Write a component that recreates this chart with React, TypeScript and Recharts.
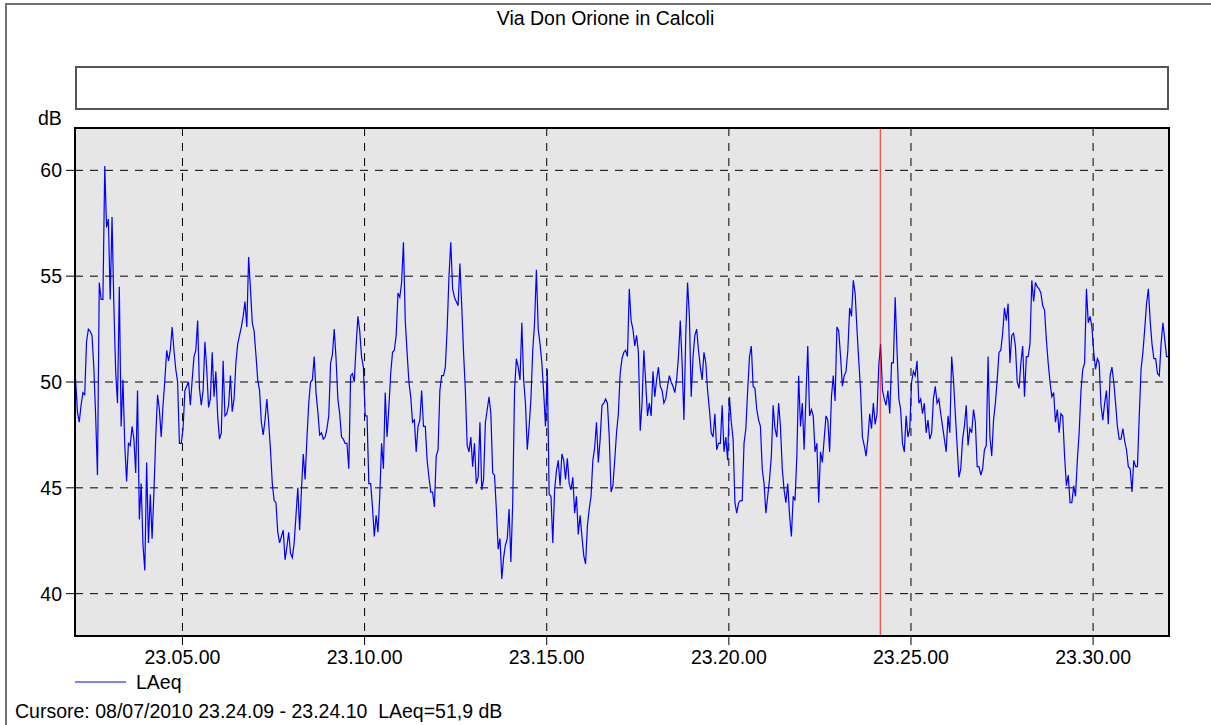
import React from "react";
import {
  LineChart,
  Line,
  XAxis,
  YAxis,
  CartesianGrid,
  ReferenceArea,
  ReferenceLine,
} from "recharts";

// LAeq readings, one every 3 s, starting 23.02.04 (seconds after 23.00.00)
const START_S = 124;
const STEP_S = 3;

const laeqA = [
  50.1, 48.6, 48.1, 48.9, 49.5, 49.4, 51.9, 52.5, 52.4, 52.2, 50.7, 48.4, 45.6, 54.7, 53.9, 53.9, 60.2,
  57.3, 57.7, 53.9, 57.8, 53.6, 50.5, 49.0, 54.5, 47.9, 50.1, 47.0, 45.3, 47.1, 47.0, 47.9, 47.3, 45.7,
  49.6, 43.5, 45.2, 42.3, 41.1, 46.2, 42.4, 44.7, 42.6, 44.8, 47.4, 49.4, 48.7, 47.4, 48.9, 50.1, 51.5,
  51.0, 51.5, 52.6, 51.5, 50.6, 50.0, 47.1, 47.1, 47.8, 49.6, 49.8, 50.0, 48.9, 50.1, 51.2, 51.5,
];
const laeqB = [
  52.9, 49.7, 48.9, 49.6, 51.9, 50.6, 48.8, 49.2, 51.4, 49.3, 50.5, 48.4, 47.3, 47.6, 51.0, 48.4, 48.5,
  48.9, 50.3, 48.6, 49.2, 50.9, 51.8, 52.2, 52.6, 53.1, 53.8, 52.6, 55.9, 54.4, 52.8, 52.4, 51.3, 50.1,
  49.6, 48.1, 47.5, 48.2, 49.2, 48.1, 46.8, 45.2, 44.4, 44.3, 42.9, 42.4, 42.7, 43.0, 41.6, 42.2, 42.9,
  41.9, 41.7, 42.4, 43.7, 45.0, 43.0, 44.9, 46.6, 45.4, 47.3, 49.0, 50.0, 50.1, 51.2, 49.5, 48.6,
];
const laeqC = [
  47.5, 47.6, 47.3, 47.4, 47.8, 48.4, 50.9, 51.3, 52.5, 51.1, 49.2, 48.5, 47.4, 47.3, 47.1, 47.1, 45.9,
  50.3, 50.4, 50.0, 51.7, 53.1, 52.4, 51.2, 50.7, 48.4, 48.4, 45.2, 45.2, 44.1, 42.7, 43.7, 42.9, 44.6,
  47.1, 45.9, 49.5, 47.4, 48.8, 50.4, 51.4, 51.5, 52.2, 54.2, 54.0, 54.7, 56.6, 52.9, 51.4, 50.0, 49.3,
  48.1, 48.2, 46.7, 47.9, 48.2, 49.6, 47.9, 47.9, 46.3, 45.5, 44.8, 44.8, 44.1, 46.5, 46.8, 49.6,
];
const laeqD = [
  50.3, 50.3, 50.7, 52.5, 55.0, 56.6, 54.4, 54.0, 53.8, 53.6, 55.6, 53.6, 51.4, 49.6, 47.0, 46.7, 47.4,
  46.0, 47.1, 45.2, 45.5, 48.1, 44.9, 45.4, 48.1, 48.7, 49.3, 48.5, 45.7, 45.6, 44.0, 42.1, 42.6, 40.7,
  41.7, 42.3, 42.6, 44.0, 41.5, 44.3, 49.6, 51.1, 50.7, 50.1, 52.8, 50.1, 49.0, 46.8, 47.9, 49.2, 51.5,
  52.8, 55.3, 52.5, 51.8, 50.9, 49.5, 47.9, 50.6, 44.7, 44.6, 42.4, 44.9, 45.8, 46.3, 45.1, 46.6,
];
const laeqE = [
  46.3, 45.4, 46.4, 45.2, 44.9, 45.5, 43.8, 44.6, 42.8, 43.7, 42.7, 41.8, 41.4, 43.2, 44.0, 44.6, 46.3,
  46.9, 48.1, 46.2, 47.3, 48.9, 49.0, 49.2, 49.0, 47.4, 44.8, 45.1, 46.3, 47.6, 48.5, 50.4, 51.1, 51.4,
  51.5, 51.2, 54.4, 52.9, 52.5, 51.7, 52.2, 51.4, 47.7, 49.0, 51.5, 50.0, 48.4, 49.0, 48.4, 50.5, 49.3,
  50.1, 50.7, 49.8, 49.6, 49.0, 49.2, 49.8, 50.3, 50.0, 49.8, 49.5, 50.1, 51.2, 52.9, 50.9, 48.2,
];
const laeqF = [
  52.2, 54.7, 53.1, 49.3, 51.2, 52.2, 52.5, 51.5, 50.7, 50.1, 51.4, 50.9, 49.6, 48.7, 47.6, 47.4, 48.5,
  46.8, 47.1, 47.1, 48.9, 46.7, 47.4, 46.3, 49.3, 48.1, 47.3, 44.3, 43.8, 44.3, 44.4, 44.4, 47.1, 47.8,
  49.6, 51.2, 51.7, 49.8, 49.7, 48.7, 48.2, 47.9, 45.9, 45.2, 43.8, 44.6, 45.4, 46.5, 48.9, 47.8, 47.4,
  49.0, 47.9, 45.9, 44.9, 44.3, 45.2, 43.7, 42.7, 44.6, 44.4, 46.5, 50.3, 47.9, 49.0, 46.8,
];
const laeqG = [
  49.3, 51.7, 48.4, 48.7, 48.4, 46.7, 47.1, 44.3, 46.7, 46.2, 47.3, 48.4, 48.2, 46.7, 49.3, 50.3, 49.1,
  52.6, 52.4, 51.2, 49.8, 50.3, 50.5, 51.5, 53.5, 53.1, 54.8, 54.2, 52.5, 51.0, 49.6, 47.4, 47.0, 46.5,
  47.3, 48.5, 47.8, 49.0, 48.0, 48.5, 50.8, 51.8, 49.6, 49.2, 48.9, 49.6, 48.5, 50.9, 50.9, 54.0, 51.5,
  49.2, 48.7, 47.1, 46.7, 48.4, 47.4, 47.8, 50.0, 50.5, 50.3, 51.0, 49.0, 49.2, 48.5, 49.0, 47.6,
];
const laeqH = [
  48.2, 47.3, 47.6, 49.2, 49.8, 49.0, 49.2, 48.5, 47.9, 47.3, 46.7, 48.4, 47.6, 51.2, 50.1, 48.5, 47.0,
  45.5, 45.9, 47.3, 47.9, 48.9, 47.0, 47.8, 47.6, 48.7, 48.1, 46.0, 46.0, 45.6, 45.9, 46.8, 47.0, 51.2,
  47.4, 46.5, 48.2, 49.0, 50.1, 51.4, 51.5, 52.3, 53.5, 52.9, 53.7, 50.9, 52.2, 52.3, 51.7, 50.0, 49.7,
  50.9, 51.7, 49.3, 51.2, 51.2, 51.8, 54.8, 53.8, 54.7, 54.5, 54.4, 54.2, 53.6, 53.4, 52.0, 50.9,
];
const laeqI = [
  50.0, 49.3, 49.5, 48.1, 48.7, 47.6, 48.5, 48.4, 46.5, 45.1, 45.6, 44.3, 44.3, 45.1, 44.6, 46.3, 47.6,
  49.6, 50.6, 50.9, 54.4, 52.8, 53.1, 52.6, 51.4, 50.6, 51.1, 50.9, 48.9, 48.2, 49.0, 49.6, 48.0, 50.3,
  50.7, 50.0, 49.0, 47.9, 47.3, 47.3, 47.8, 47.2, 46.8, 46.0, 45.9, 44.8, 46.3, 46.0, 46.0, 48.4, 50.6,
  51.4, 52.5, 53.7, 54.4, 52.9, 51.8, 51.1, 51.1, 50.4, 50.3, 51.8, 52.8, 52.0, 51.2, 51.2,
];

const xTicks = [300, 600, 900, 1200, 1500, 1800];
const yTicks = [40, 45, 50, 55, 60];
const cursorS = 1449.5; // 23.24.09 - 23.24.10

const laeq = [...laeqA, ...laeqB, ...laeqC, ...laeqD, ...laeqE, ...laeqF, ...laeqG, ...laeqH, ...laeqI];
const data = laeq.map((v, i) => ({ t: START_S + i * STEP_S, LAeq: v }));

const pad = (n: number) => String(n).padStart(2, "0");
const fmtTime = (s: number) => `23.${pad(Math.floor(s / 60))}.${pad(Math.round(s % 60))}`;

const font = '"Liberation Sans", Arial, sans-serif';
const fs = 19.5;

export default function App() {
  return (
    <div
      style={{
        position: "absolute",
        left: 0,
        top: 0,
        width: 1211,
        height: 725,
        overflow: "hidden",
        background: "#fff",
        fontFamily: font,
        color: "#000",
      }}
    >
      {/* outer frame */}
      <div
        style={{
          position: "absolute",
          left: 5,
          top: 3,
          width: 1300,
          height: 800,
          borderTop: "2px solid #707070",
          borderLeft: "2px solid #707070",
        }}
      />
      <div style={{ position: "absolute", left: 0, top: 7, width: 1211, textAlign: "center", fontSize: fs, lineHeight: "22px" }}>
        Via Don Orione in Calcoli
      </div>
      {/* empty header box */}
      <div
        style={{
          position: "absolute",
          left: 75,
          top: 66,
          width: 1094,
          height: 44,
          boxSizing: "border-box",
          border: "2px solid #555",
          background: "#fff",
        }}
      />
      <div style={{ position: "absolute", left: 38, top: 107, fontSize: fs, lineHeight: "22px" }}>dB</div>

      <div style={{ position: "absolute", left: 0, top: 0 }}>
        <LineChart width={1211} height={725} data={data} margin={{ top: 128, right: 42, bottom: 59, left: 35 }}>
          <CartesianGrid stroke="#000" strokeDasharray="8 7" fill="#e6e6e6" fillOpacity={1} />
          <XAxis
            dataKey="t"
            type="number"
            domain={[123, 1925]}
            ticks={xTicks}
            tickFormatter={fmtTime}
            height={30}
            tickSize={9}
            tickMargin={5}
            axisLine={{ stroke: "#000", strokeWidth: 2 }}
            tickLine={{ stroke: "#000" }}
            tick={{ fill: "#000", fontSize: fs, fontFamily: font }}
            allowDataOverflow
          />
          <YAxis
            type="number"
            domain={[38, 62]}
            ticks={yTicks}
            width={40}
            tickSize={9}
            tickMargin={4}
            axisLine={{ stroke: "#000", strokeWidth: 2 }}
            tickLine={{ stroke: "#000" }}
            tick={{ fill: "#000", fontSize: fs, fontFamily: font }}
            allowDataOverflow
          />
          <ReferenceArea x1={123} x2={1925} y1={38} y2={62} fill="none" stroke="#000" strokeWidth={2} />
          <Line
            type="linear"
            dataKey="LAeq"
            stroke="#0000ff"
            strokeWidth={1.2}
            dot={false}
            activeDot={false}
            isAnimationActive={false}
          />
          <ReferenceLine x={cursorS} stroke="#ff0000" strokeOpacity={0.7} strokeWidth={1.2} />
        </LineChart>
      </div>

      {/* legend */}
      <svg style={{ position: "absolute", left: 75, top: 677 }} width={52} height={10}>
        <line x1={0} y1={5} x2={51} y2={5} stroke="#0000ff" strokeWidth={1.2} />
      </svg>
      <div style={{ position: "absolute", left: 136, top: 671, fontSize: fs, lineHeight: "22px" }}>LAeq</div>

      <div style={{ position: "absolute", left: 15, top: 700, fontSize: fs, lineHeight: "22px", whiteSpace: "pre" }}>
        {"Cursore: 08/07/2010 23.24.09 - 23.24.10  LAeq=51,9 dB"}
      </div>
    </div>
  );
}
